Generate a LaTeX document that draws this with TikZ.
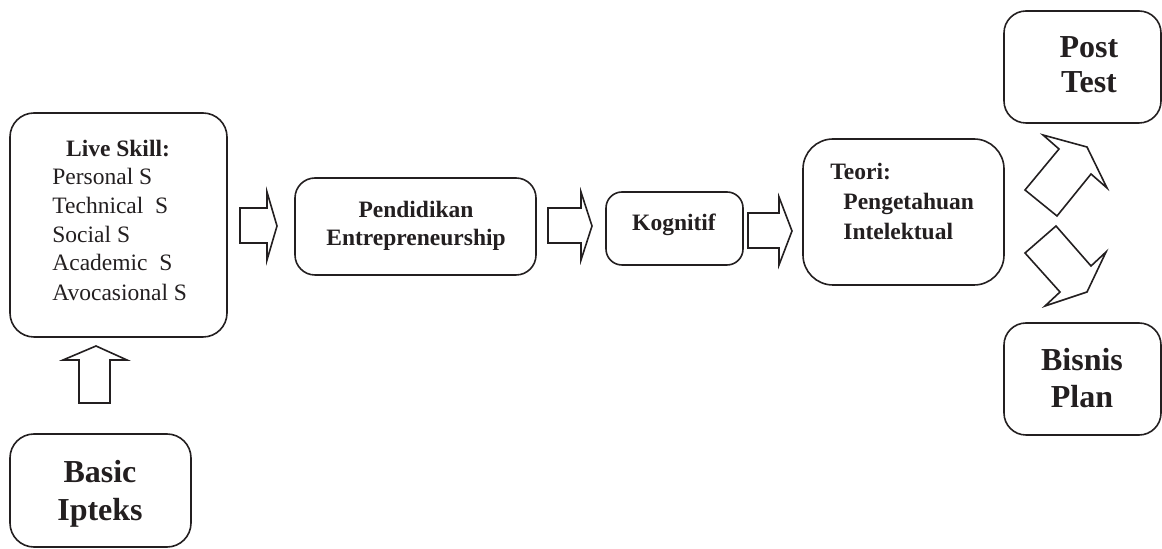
\documentclass[tikz,border=0pt]{standalone}
\usepackage{fontspec}
\setmainfont{Liberation Serif}
\usetikzlibrary{fit}
\definecolor{ink}{HTML}{231F20}
\begin{document}
\begin{tikzpicture}[x=0.5pt,y=-0.5pt,
  box/.style={draw=ink, line width=0.8pt, inner sep=0pt, rounded corners=#1},
  blockarrow/.style={draw=ink, line width=0.8pt, line join=miter, fill=white},
  txt/.style={text=ink, inner sep=0pt, font=\fontsize{11.75}{14}\selectfont},
  btxt/.style={text=ink, inner sep=0pt, font=\fontsize{11.75}{14}\selectfont\bfseries},
  bigtxt/.style={text=ink, inner sep=0pt, font=\fontsize{16}{18}\selectfont\bfseries}]
\useasboundingbox (0,0) rectangle (1162,549);

% boxes
\node[box=12pt, fit={(10,113)(227,337)}] (live) {};
\node[box=12pt, fit={(10,434)(191,547)}] (basic) {};
\node[box=10pt, fit={(295,178)(536,275)}] (pend) {};
\node[box=8pt,  fit={(606,192)(743,265)}] (kog) {};
\node[box=15pt, fit={(803,139)(1004,285)}] (teori) {};
\node[box=11pt, fit={(1004,11)(1161,123)}] (post) {};
\node[box=11pt, fit={(1004,323)(1161,435)}] (bisnis) {};

% texts
\node[btxt, anchor=base] (liveh) at (118,157) {Live Skill:};
\node[txt, anchor=base west] (l1) at (52,185) {Personal S};
\node[txt, anchor=base west] (l2) at (52,214) {Technical\ \ S};
\node[txt, anchor=base west] (l3) at (52,243) {Social S};
\node[txt, anchor=base west] (l4) at (52,271) {Academic\ \ S};
\node[txt, anchor=base west] (l5) at (52,301) {Avocasional S};

\node[btxt, anchor=base] (p1) at (416,218) {Pendidikan};
\node[btxt, anchor=base] (p2) at (416,246) {Entrepreneurship};

\node[btxt, anchor=base] (k1) at (674,231) {Kognitif};

\node[btxt, anchor=base west] (t1) at (830,180) {Teori:};
\node[btxt, anchor=base west] (t2) at (843,210) {Pengetahuan};
\node[btxt, anchor=base west] (t3) at (843,240) {Intelektual};

\node[bigtxt, anchor=base] (b1) at (100,483) {Basic};
\node[bigtxt, anchor=base] (b2) at (100,521) {Ipteks};

\node[bigtxt, anchor=base] (pt1) at (1089,58) {Post};
\node[bigtxt, anchor=base] (pt2) at (1089,93) {Test};

\node[bigtxt, anchor=base] (bp1) at (1082,371) {Bisnis};
\node[bigtxt, anchor=base] (bp2) at (1082,408) {Plan};

% block arrows
\draw[blockarrow] (240,208) -- (267,208) -- (267,192) -- (277,226) -- (267,260) -- (267,243) -- (240,243) -- cycle;
\draw[blockarrow] (548,208) -- (581,208) -- (581,192) -- (592,226) -- (581,260) -- (581,243) -- (548,243) -- cycle;
\draw[blockarrow] (748,213) -- (779,213) -- (779,197) -- (792,231) -- (779,265) -- (779,248) -- (748,248) -- cycle;
\draw[blockarrow] (79,403) -- (79,360) -- (63,360) -- (96,346) -- (127,360) -- (110,360) -- (110,403) -- cycle;
\draw[blockarrow] (1043,135) -- (1087,147) -- (1107,188) -- (1091,174) -- (1057,216) -- (1025,190) -- (1059,149) -- cycle;
\draw[blockarrow] (1025,253) -- (1056,226) -- (1091,266) -- (1106,252) -- (1087,292) -- (1045,306) -- (1060,292) -- cycle;
\end{tikzpicture}
\end{document}
